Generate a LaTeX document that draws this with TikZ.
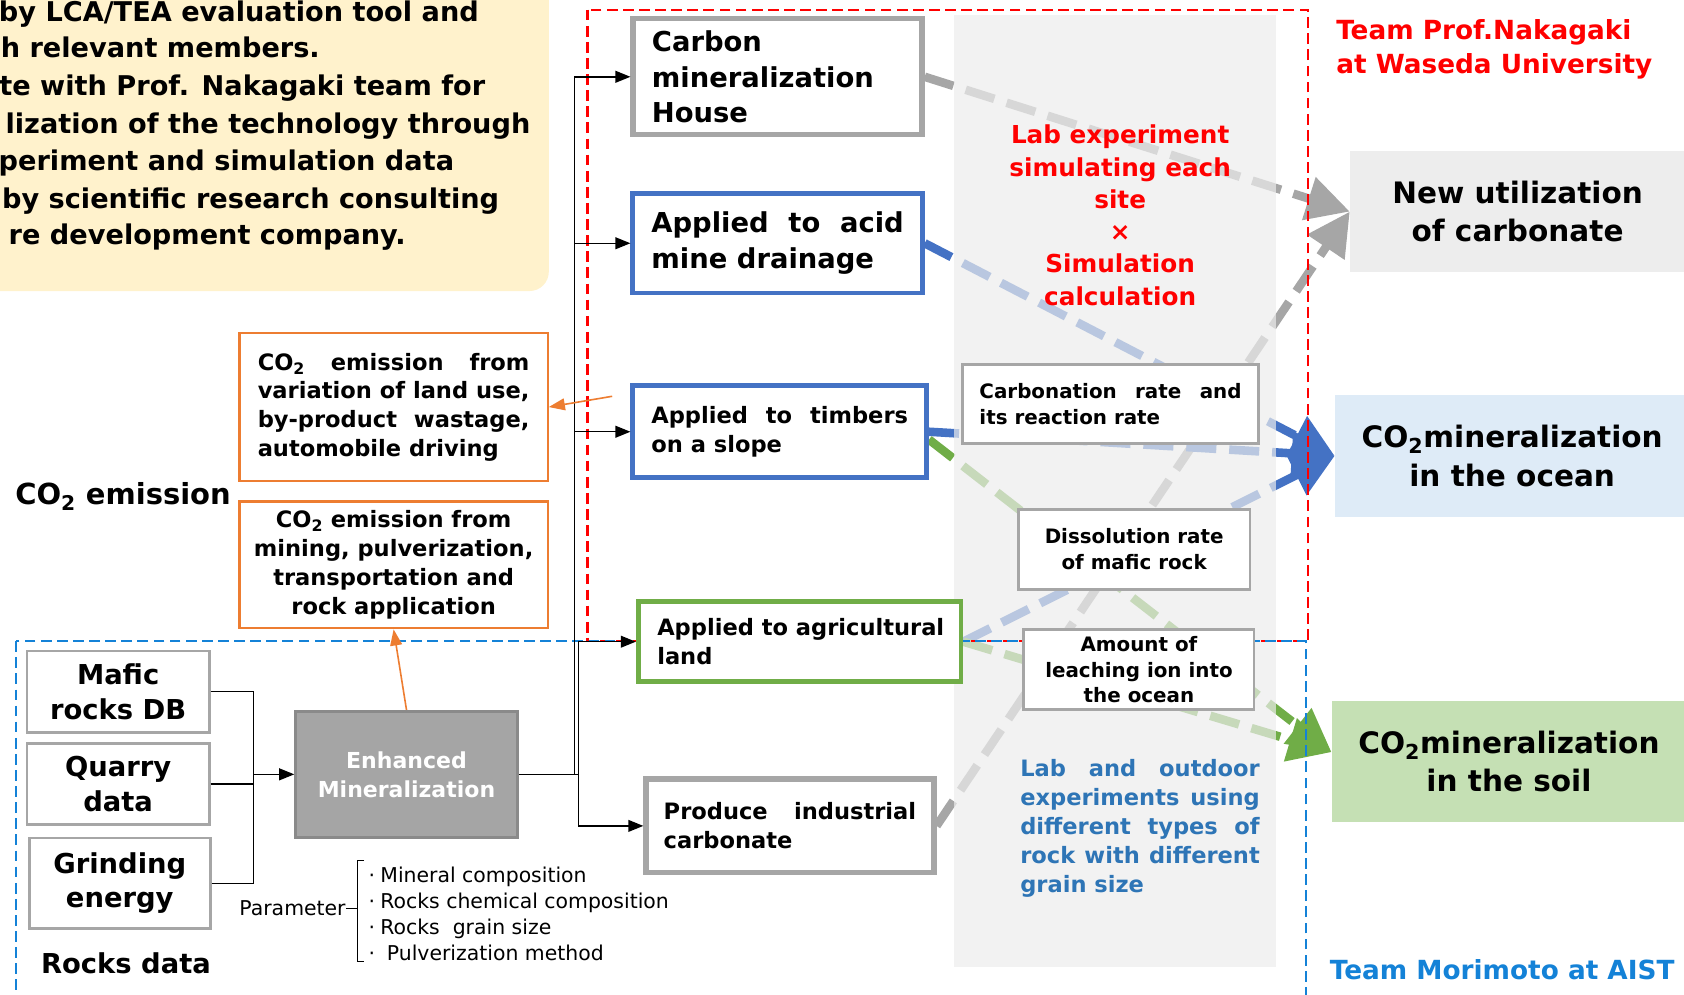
\documentclass[tikz,border=0pt]{standalone}
\usepackage{fontspec}
\setmainfont{DejaVu Sans}
\usetikzlibrary{arrows.meta}

\definecolor{boxgray}{HTML}{A6A6A6}
\definecolor{boxblue}{HTML}{4472C4}
\definecolor{boxgreen}{HTML}{70AD47}
\definecolor{boxorange}{HTML}{ED7D31}
\definecolor{notefill}{HTML}{FFF2CC}
\definecolor{utilfill}{HTML}{EDEDED}
\definecolor{oceanfill}{HTML}{DEEBF7}
\definecolor{soilfill}{HTML}{C5E0B4}
\definecolor{panelfill}{HTML}{ECECEC}
\definecolor{waseda}{HTML}{FF0000}
\definecolor{aist}{RGB}{20,130,215}
\definecolor{labblue}{HTML}{2E75B6}
\definecolor{emfill}{HTML}{A5A5A5}
\definecolor{emborder}{HTML}{8A8A8A}

\pgfdeclarelayer{flow}
\pgfdeclarelayer{shade}
\pgfdeclarelayer{frame}
\pgfsetlayers{flow,shade,frame,main}

\newcommand\fsz[2]{\fontsize{#1}{#2}\selectfont}
\newcommand\Js[2]{\makebox[#1][s]{#2}}
\newcommand\Ln[2]{\makebox[#1][l]{#2}}
\newcommand\cotwo{CO\textsubscript{2}}

\begin{document}
\begin{tikzpicture}[x=1pt,y=-1pt,
  gbox/.style={draw=boxgray, line width=5pt, fill=white, inner sep=0pt},
  bbox/.style={draw=boxblue, line width=4.5pt, fill=white, inner sep=0pt},
  grbox/.style={draw=boxgreen, line width=4.5pt, fill=white, inner sep=0pt},
  tbox/.style={draw=boxgray, line width=2.5pt, fill=white, inner sep=0pt},
  obox/.style={draw=boxorange, line width=2pt, fill=white, inner sep=0pt},
  goal/.style={fill=#1, inner sep=0pt, align=center, font={\bfseries\fsz{27.5}{36}}},
  fat/.style={draw=#1, line width=8pt, dash pattern=on 28pt off 12pt, line cap=butt,
    -{Triangle[length=40pt,width=40pt,fill=#1]}},
  link/.style={line width=1.4pt, -{Triangle[length=14pt,width=11pt]}},
  plain/.style={line width=1.4pt},
  ora/.style={draw=boxorange, line width=1.5pt, -{Triangle[length=15pt,width=11pt,fill=boxorange]}},
  notetext/.style={anchor=base east, inner sep=0pt, font={\bfseries\fsz{25.3}{35}}},
  teamframe/.style={line width=2pt, dash pattern=on 10pt off 5pt},
]
\useasboundingbox (0,0) rectangle (1568,926);

% ---- note block (top left) ----
\fill[notefill, rounded corners=18pt] (-40,-40) rectangle (511,271);
\node[notetext] (n1) at (446,20)  {by LCA/TEA evaluation tool and};
\node[notetext] (n2) at (298,54)  {h relevant members.};
\node[notetext] (n3) at (452,89)  {te with Prof. Nakagaki team for};
\node[notetext] (n4) at (494,124) {lization of the technology through};
\node[notetext] (n5) at (423,159) {periment and simulation data};
\node[notetext] (n6) at (465,194) {by scientific research consulting};
\node[notetext] (n7) at (378,228) {re development company.};

% ---- goals on the right ----
\node[goal=utilfill, minimum width=312pt, minimum height=112pt] (nu) at (1413,197) {New utilization\\of carbonate};
\node[goal=oceanfill, minimum width=330pt, minimum height=113pt] (ocean) at (1408,424.5) {\cotwo mineralization\\in the ocean};
\node[goal=soilfill, minimum width=330pt, minimum height=112pt] (soil) at (1405,709) {\cotwo mineralization\\in the soil};

% ---- application sites ----
\node[gbox, minimum width=269pt, minimum height=108pt, align=left, font={\bfseries\fsz{25.5}{33}}]
  (carbon) at (724,71.5) {\Ln{234pt}{Carbon}\\mineralization\\House};
\node[bbox, minimum width=269.5pt, minimum height=92.5pt, align=left, font={\bfseries\fsz{25.5}{33}}]
  (acid) at (724,226.5) {\Js{235pt}{Applied to acid}\\\Ln{235pt}{mine drainage}};
\node[bbox, minimum width=273.5pt, minimum height=85.5pt, align=left, font={\bfseries\fsz{21}{27}}]
  (timber) at (726,402) {\Js{239pt}{Applied to timbers}\\\Ln{239pt}{on a slope}};
\node[grbox, minimum width=300.5pt, minimum height=74.5pt, align=left, font={\bfseries\fsz{21}{27}}]
  (agri) at (744.5,597.5) {\Ln{265pt}{Applied to agricultural}\\\Ln{265pt}{land}};
\node[gbox, minimum width=268pt, minimum height=87pt, align=left, font={\bfseries\fsz{21}{27}}]
  (prod) at (735.5,769) {\Js{235pt}{Produce industrial}\\\Ln{235pt}{carbonate}};

% ---- flows from the sites to the goals ----
\begin{pgfonlayer}{flow}
\draw[fat=boxgray]  (carbon.east) -- (nu.west);
\draw[fat=boxgray]  (prod.east)   -- (nu.west);
\draw[fat=boxblue]  (acid.east)   -- (ocean.west);
\draw[fat=boxblue]  (timber.east) -- (ocean.west);
\draw[fat=boxblue]  (agri.east)   -- (ocean.west);
\draw[fat=boxgreen] (timber.-3)   -- (soil.177);
\draw[fat=boxgreen] (agri.east)   -- (soil.177);
\end{pgfonlayer}

% ---- experiment panel ----
\begin{pgfonlayer}{shade}
\fill[panelfill, fill opacity=0.7] (888,14) rectangle (1188,900);
\end{pgfonlayer}
\node[align=center, text=waseda, inner sep=0pt, font={\bfseries\fsz{23}{30}}] (labsim) at (1043,200.5)
  {Lab experiment\\simulating each\\site\\×\\Simulation\\calculation};
\node[align=left, text=labblue, inner sep=0pt, font={\bfseries\fsz{21}{27}}] (labout) at (1061.5,771.5)
  {\Js{223pt}{Lab and outdoor}\\\Js{223pt}{experiments using}\\\Js{223pt}{different types of}\\\Js{223pt}{rock with different}\\\Ln{223pt}{grain size}};

\node[tbox, minimum width=275.5pt, minimum height=73.5pt, align=left, font={\bfseries\fsz{18.5}{24}}]
  (crate) at (1034,376) {\Js{244pt}{Carbonation rate and}\\\Ln{244pt}{its reaction rate}};
\node[tbox, minimum width=215.5pt, minimum height=74.5pt, align=center, font={\bfseries\fsz{18.5}{24}}]
  (diss) at (1056,511.5) {Dissolution rate\\of mafic rock};
\node[tbox, minimum width=214.5pt, minimum height=74.5pt, align=center, font={\bfseries\fsz{18.5}{24}}]
  (leach) at (1060.5,623.5) {Amount of\\leaching ion into\\the ocean};

% ---- CO2 emission ----
\node[anchor=west, inner sep=0pt, font={\bfseries\fsz{27}{33}}] (co2em) at (14,462) {\cotwo\ emission};
\node[obox, minimum width=287pt, minimum height=138pt, align=left, font={\bfseries\fsz{21}{26.7}}]
  (or1) at (366.5,379) {\Js{253pt}{\cotwo\ emission from}\\\Js{253pt}{variation of land use,}\\\Js{253pt}{by-product wastage,}\\\Ln{253pt}{automobile driving}};
\node[obox, minimum width=287pt, minimum height=118pt, align=center, font={\bfseries\fsz{21}{27}}]
  (or2) at (366.5,526) {\cotwo\ emission from\\mining, pulverization,\\transportation and\\rock application};

% ---- rocks data ----
\node[tbox, minimum width=169.5pt, minimum height=75.5pt, align=center, font={\bfseries\fsz{25.5}{32}}]
  (mafic) at (110,644) {Mafic\\rocks DB};
\node[tbox, minimum width=169.5pt, minimum height=75.5pt, align=center, font={\bfseries\fsz{25.5}{32}}]
  (quarry) at (110,730) {Quarry\\data};
\node[tbox, minimum width=168.5pt, minimum height=84.5pt, align=center, font={\bfseries\fsz{25.5}{32}}]
  (grind) at (111.5,822.5) {Grinding\\energy};
\node[anchor=west, inner sep=0pt, font={\bfseries\fsz{25.5}{32}}] (rocks) at (38,897) {Rocks data};

\node[draw=emborder, fill=emfill, line width=2.5pt, inner sep=0pt, minimum width=206.5pt, minimum height=117.5pt,
  align=center, text=white, font={\bfseries\fsz{20.5}{27}}] (enh) at (378.5,721) {Enhanced\\Mineralization};

% ---- parameters ----
\node[anchor=east, inner sep=0pt, font={\fsz{19}{24}}] (param) at (322,846) {Parameter};
\draw[line width=1pt] (339,801) -- (333,801) -- (333,895) -- (339,895);
\draw[line width=1pt] (param.east) -- (333,846);
\node[anchor=west, align=left, inner sep=0pt, font={\fsz{19}{24}}] (plist) at (338,851)
  {\makebox[16pt][c]{·}Mineral composition\\\makebox[16pt][c]{·}Rocks chemical composition\\\makebox[16pt][c]{·}Rocks~ grain size\\\makebox[16pt][c]{·}\ Pulverization method};

% ---- process connectors ----
\coordinate (rk) at (236,721);
\draw[plain] (mafic.east) -| (rk);
\draw[plain] (quarry.east) -| (rk);
\draw[plain] (grind.east) -| (rk);
\draw[link] (rk) -- (enh.west);

\coordinate (t1) at (535,721);
\coordinate (t2) at (538.5,721);
\draw[plain] (enh.east) -- (t2);
\draw[link] (t1) |- (carbon.west);
\draw[link] (t1) |- (acid.west);
\draw[link] (t1) |- (timber.west);
\draw[link] (t2) |- (agri.west);
\draw[link] (t2) |- (prod.west);

\draw[ora] (enh.north) -- (or2.south);
\coordinate (ofree) at (570,369);
\draw[ora] (ofree) -- (or1.east);

% ---- team areas ----
\begin{pgfonlayer}{frame}
\draw[teamframe, waseda] (547,9) rectangle (1218,597);
\draw[teamframe, aist] (15,597) rectangle (1216,935);
\end{pgfonlayer}
\node[anchor=west, align=left, inner sep=0pt, text=waseda, font={\bfseries\fsz{24.5}{32}}] (tw) at (1244,46)
  {Team Prof.Nakagaki\\at Waseda University};
\node[anchor=west, inner sep=0pt, text=aist, font={\bfseries\fsz{24.5}{32}}] (ta) at (1238,903) {Team Morimoto at AIST};
\end{tikzpicture}
\end{document}
